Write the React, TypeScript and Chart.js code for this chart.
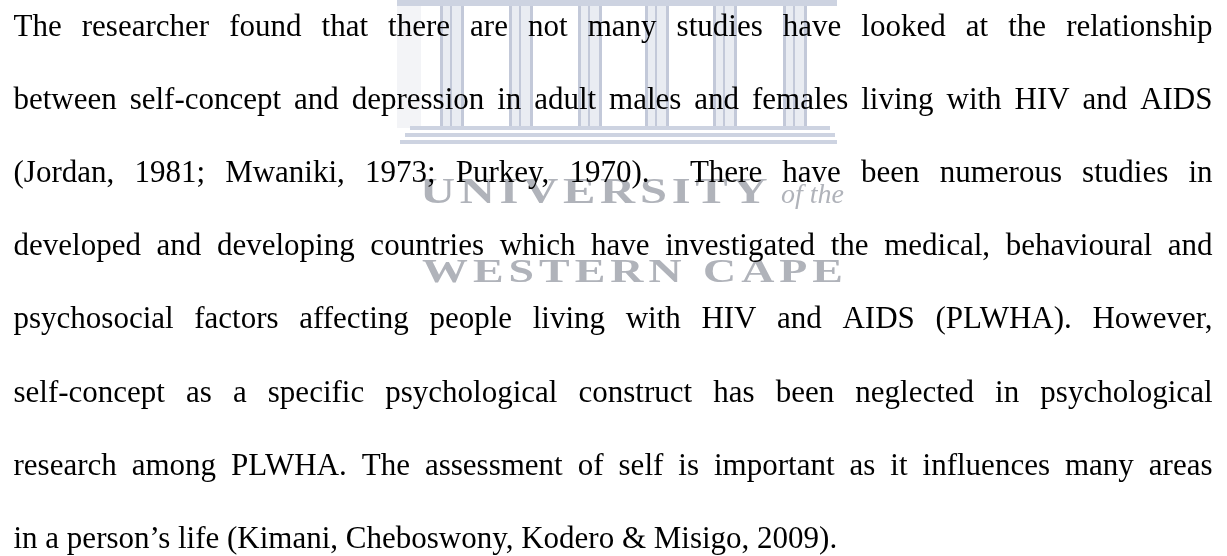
import React, { useEffect, useRef } from "react";
import { Chart, registerables } from "chart.js";

Chart.register(...registerables);

// Paragraph lines (the "data" of this figure)
const lines: string[] = [
  "The researcher found that there are not many studies have looked at the relationship",
  "between self-concept and depression in adult males and females living with HIV and AIDS",
  "(Jordan, 1981; Mwaniki, 1973; Purkey, 1970).  There have been numerous studies in",
  "developed and developing countries which have investigated the medical, behavioural and",
  "psychosocial factors affecting people living with HIV and AIDS (PLWHA). However,",
  "self-concept as a specific psychological construct has been neglected in psychological",
  "research among PLWHA. The assessment of self is important as it influences many areas",
  "in a person\u2019s life (Kimani, Cheboswony, Kodero & Misigo, 2009).",
];

const watermarkTop: string[] = ["UNIVERSITY", "of the"];
const watermarkBottom: string[] = ["WESTERN CAPE"];
const columnCenters: number[] = [452, 521, 590, 657, 725, 795];

const W = 1227;
const H = 556;

function drawStretched(
  ctx: CanvasRenderingContext2D,
  text: string,
  x0: number,
  y: number,
  sx: number,
  gap: number
) {
  let x = x0;
  for (const ch of text) {
    ctx.save();
    ctx.translate(x, y);
    ctx.scale(sx, 1);
    ctx.fillText(ch, 0, 0);
    ctx.restore();
    x += ctx.measureText(ch).width * sx + gap;
  }
}

const paragraphPlugin = {
  id: "paragraph",
  beforeDraw(chart: any) {
    const ctx: CanvasRenderingContext2D = chart.ctx;
    ctx.save();
    ctx.fillStyle = "#ffffff";
    ctx.fillRect(0, 0, W, H);

    // --- watermark: building ---
    const wm = "#cdd3e1";
    const wmLine = "#c3c9d9";
    ctx.fillStyle = "#f3f4f7";
    ctx.fillRect(397, 0, 24, 128);
    ctx.fillStyle = wm;
    ctx.fillRect(397, 0, 440, 6);
    for (const c of columnCenters) {
      ctx.fillStyle = "#e9ecf2";
      ctx.fillRect(c - 12, 6, 24, 120);
      ctx.fillStyle = wmLine;
      ctx.fillRect(c - 12, 6, 3, 120);
      ctx.fillRect(c + 9, 6, 3, 120);
      ctx.fillRect(c - 2, 6, 2, 120);
    }
    // steps
    ctx.fillStyle = wm;
    ctx.fillRect(410, 126, 420, 4);
    ctx.fillRect(405, 133, 430, 4);
    ctx.fillRect(400, 140, 437, 4);

    // --- watermark: text ---
    ctx.fillStyle = "#b0b3ba";
    ctx.textBaseline = "alphabetic";
    ctx.font = "bold 36px 'Liberation Serif', 'Times New Roman', serif";
    drawStretched(ctx, watermarkTop[0], 420, 203, 1.35, 4.7);
    ctx.font = "italic 28px 'Liberation Serif', 'Times New Roman', serif";
    ctx.fillText(watermarkTop[1], 781, 203);
    ctx.font = "bold 34px 'Liberation Serif', 'Times New Roman', serif";
    drawStretched(ctx, watermarkBottom[0], 422, 282, 1.35, 5);
    ctx.restore();
  },
  afterDraw(chart: any) {
    const ctx: CanvasRenderingContext2D = chart.ctx;
    ctx.save();
    ctx.fillStyle = "#000000";
    ctx.textBaseline = "alphabetic";
    ctx.font = "31px 'Liberation Serif', 'Times New Roman', serif";
    const left = 13.5;
    const right = 1212.5;
    const top = 36;
    const step = 73.1;
    lines.forEach((line, i) => {
      const y = top + i * step;
      const tokens = line.split(" ");
      const last = i === lines.length - 1;
      const widths = tokens.map((t) => ctx.measureText(t).width);
      const total = widths.reduce((a, b) => a + b, 0);
      const gap = last
        ? ctx.measureText(" ").width
        : (right - left - total) / (tokens.length - 1);
      let x = left;
      tokens.forEach((t, j) => {
        if (t) ctx.fillText(t, x, y);
        x += widths[j] + gap;
      });
    });
    ctx.restore();
  },
};

export default function App() {
  const ref = useRef<HTMLCanvasElement | null>(null);
  useEffect(() => {
    document.body.style.margin = "0";
    const canvas = ref.current;
    if (!canvas) return;
    const chart = new Chart(canvas, {
      type: "bar",
      data: { labels: [], datasets: [] },
      options: {
        responsive: false,
        animation: false,
        devicePixelRatio: 1,
        plugins: { legend: { display: false }, tooltip: { enabled: false }, title: { display: false } },
        scales: { x: { display: false }, y: { display: false } },
      },
      plugins: [paragraphPlugin],
    });
    return () => chart.destroy();
  }, []);
  return (
    <div style={{ width: W, height: H, background: "#fff" }}>
      <canvas ref={ref} width={W} height={H} style={{ display: "block", width: W, height: H }} />
    </div>
  );
}
